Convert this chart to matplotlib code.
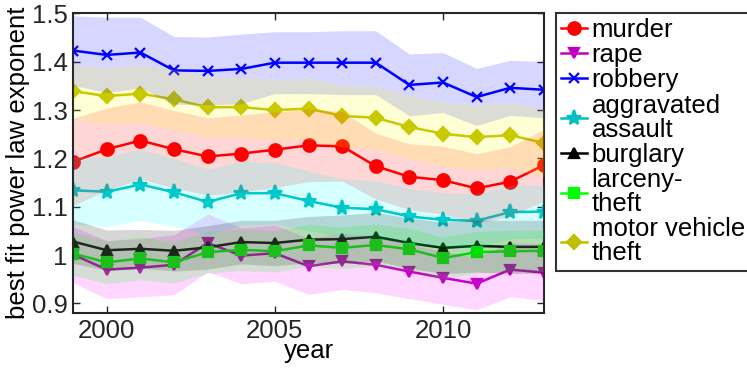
import numpy as np
import matplotlib.pyplot as plt

plt.rcParams['font.family'] = ['Liberation Sans', 'DejaVu Sans']
plt.rcParams['font.size'] = 18.5

years = np.arange(1999, 2014)

murder = [1.193, 1.219, 1.237, 1.219, 1.204, 1.210, 1.218, 1.227, 1.225, 1.184, 1.162, 1.155, 1.138, 1.152, 1.186]
rape = [1.001, 0.970, 0.974, 0.980, 1.025, 0.999, 1.004, 0.977, 0.987, 0.980, 0.966, 0.953, 0.941, 0.970, 0.964]
robbery = [1.423, 1.414, 1.419, 1.382, 1.381, 1.385, 1.398, 1.398, 1.398, 1.398, 1.352, 1.357, 1.327, 1.346, 1.342]
assault = [1.134, 1.131, 1.146, 1.130, 1.110, 1.128, 1.128, 1.112, 1.098, 1.095, 1.080, 1.073, 1.071, 1.089, 1.090]
burglary = [1.028, 1.010, 1.013, 1.009, 1.016, 1.027, 1.025, 1.032, 1.033, 1.038, 1.025, 1.015, 1.019, 1.017, 1.017]
larceny = [1.003, 0.985, 0.993, 0.985, 1.006, 1.011, 1.008, 1.020, 1.015, 1.021, 1.012, 0.994, 1.006, 1.008, 1.009]
motor = [1.339, 1.329, 1.334, 1.322, 1.306, 1.306, 1.300, 1.303, 1.288, 1.284, 1.265, 1.251, 1.244, 1.248, 1.232]

# half widths of the shaded bands
murder_err = [0.090, 0.085, 0.080, 0.080, 0.080, 0.080, 0.078, 0.075, 0.072, 0.068, 0.068, 0.070, 0.072, 0.072, 0.074]
rape_err = [0.058, 0.060, 0.060, 0.062, 0.060, 0.058, 0.058, 0.058, 0.058, 0.058, 0.056, 0.055, 0.054, 0.056, 0.058]
robbery_err = [0.072, 0.078, 0.073, 0.070, 0.070, 0.072, 0.064, 0.064, 0.066, 0.066, 0.064, 0.062, 0.059, 0.057, 0.058]
assault_err = [0.070, 0.072, 0.074, 0.070, 0.068, 0.066, 0.064, 0.062, 0.060, 0.058, 0.058, 0.056, 0.056, 0.055, 0.055]
burglary_err = [0.045, 0.042, 0.040, 0.042, 0.045, 0.045, 0.047, 0.048, 0.050, 0.050, 0.052, 0.053, 0.054, 0.055, 0.055]
larceny_err = [0.045, 0.044, 0.044, 0.043, 0.043, 0.043, 0.043, 0.043, 0.043, 0.043, 0.043, 0.043, 0.043, 0.043, 0.043]
motor_err = [0.056, 0.058, 0.060, 0.062, 0.062, 0.062, 0.063, 0.064, 0.064, 0.065, 0.065, 0.066, 0.066, 0.068, 0.070]

labels = ['murder', 'rape', 'robbery', 'aggravated\nassault', 'burglary', 'larceny-\ntheft', 'motor vehicle\ntheft']
series = [murder, rape, robbery, assault, burglary, larceny, motor]
errs = [murder_err, rape_err, robbery_err, assault_err, burglary_err, larceny_err, motor_err]
line_colors = [(1, 0, 0), (0.75, 0, 0.75), (0, 0, 1), (0, 0.75, 0.75), (0, 0, 0), (0, 1, 0), (0.75, 0.75, 0)]
fill_colors = [(1, 0, 0), (1, 0, 1), (0, 0, 1), (0, 1, 1), (0, 0, 0), (0, 1, 0), (1, 1, 0)]
markers = ['o', 'v', 'x', '*', '^', 's', 'D']
msizes = [9, 6.5, 7, 11, 6.5, 6.5, 7.5]

fig = plt.figure(figsize=(7.47, 3.71), dpi=100)
ax = fig.add_axes([0.098, 0.156, 0.630, 0.808])

for y, e, lc, fc, m, ms, lab in zip(series, errs, line_colors, fill_colors, markers, msizes, labels):
    y = np.array(y)
    e = np.array(e)
    ax.plot(years, y, color=lc, marker=m, markersize=ms, linewidth=1.8,
            markeredgewidth=1.6, label=lab, zorder=2)
    ax.fill_between(years, y - e, y + e, color=fc, alpha=0.16, linewidth=0, zorder=3)

ax.set_xlim(1999, 2013)
ax.set_ylim(0.88, 1.5)
ax.set_xticks([2000, 2005, 2010])
ax.set_yticks([0.9, 1, 1.1, 1.2, 1.3, 1.4, 1.5])
ax.set_yticklabels(['0.9', '1', '1.1', '1.2', '1.3', '1.4', '1.5'])
ax.tick_params(direction='in', length=5, width=1, top=True, right=True, colors='0.15',
               labelcolor='0.15', pad=4)
for s in ax.spines.values():
    s.set_linewidth(1.5)
    s.set_color('0.15')
ax.set_xlabel('year', labelpad=-3)
ax.set_ylabel('best fit power law exponent', labelpad=1)

leg = fig.legend(loc='upper left', bbox_to_anchor=(0.744, 0.966), frameon=True,
                 fancybox=False, edgecolor='black', handlelength=1.0, handletextpad=0.2,
                 labelspacing=0.05, borderpad=0.2, borderaxespad=0)
leg.get_frame().set_linewidth(1.5)
for t in leg.get_texts():
    t.set_linespacing(1.0)

fig.savefig('out.png', dpi=100)
